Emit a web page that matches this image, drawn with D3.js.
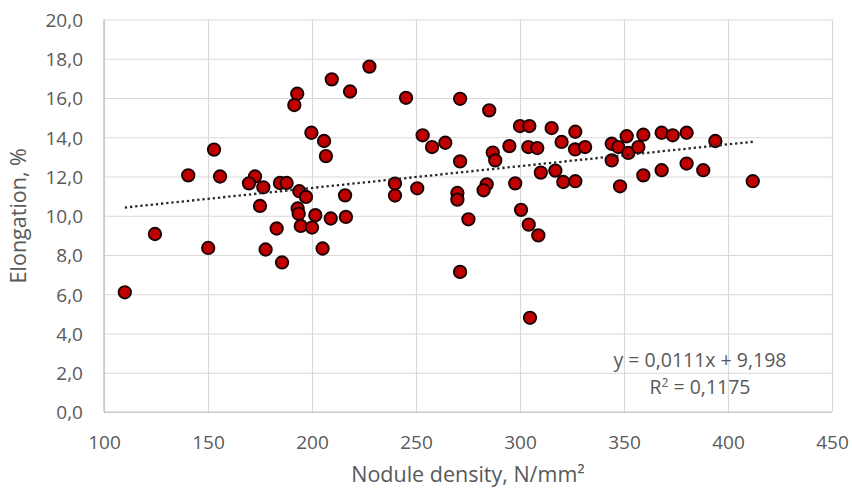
<!DOCTYPE html>
<html>
<head>
<meta charset="utf-8">
<script src="https://cdn.jsdelivr.net/npm/d3@7"></script>
<style>
  html, body { margin: 0; padding: 0; background: #fff; }
  svg { display: block; font-family: "Open Sans", "Noto Sans", sans-serif; }
</style>
</head>
<body>
<svg id="chart" width="852" height="492"></svg>
<script>
// Nodule density (N/mm²) of each specimen
const density = [
  110, 124.5, 140.5, 152.9, 155.8, 150.1, 172.6, 169.7, 176.6, 184.6,
  187.8, 175, 193.9, 197.1, 193.1, 193.6, 201.6, 209, 216.3, 215.9,
  199.7, 205.8, 206.7, 192.9, 191.5, 209.5, 218.3, 183, 194.6, 200,
  177.7, 205.1, 185.6, 227.6, 245.2, 271.2, 285.2, 300, 304.5, 315.2,
  326.6, 253.2, 257.7, 264.1, 294.9, 304, 308.3, 320, 326.5, 286.9,
  288.1, 271.2, 310, 317, 320.8, 326.6, 297.7, 284, 282.5, 239.9,
  239.9, 250.6, 269.9, 269.9, 300.5, 275.2, 304.2, 308.8, 271.2, 304.8,
  331.3, 344.1, 347.3, 351.3, 352.1, 356.9, 359.3, 368.1, 373.4, 380.1,
  393.9, 344.1, 359.3, 368.1, 380.1, 388.1, 348.1, 411.9
];
// Elongation (%) of each specimen
const elongation = [
  6.1, 9.07, 12.06, 13.37, 12.0, 8.36, 12.0, 11.65, 11.45, 11.67,
  11.67, 10.5, 11.25, 10.96, 10.37, 10.1, 10.03, 9.86, 9.94, 11.04,
  14.23, 13.81, 13.04, 16.22, 15.64, 16.95, 16.33, 9.35, 9.48, 9.4,
  8.28, 8.33, 7.62, 17.6, 16.01, 15.96, 15.37, 14.57, 14.57, 14.47,
  14.28, 14.1, 13.5, 13.72, 13.55, 13.5, 13.45, 13.76, 13.38, 13.22,
  12.82, 12.77, 12.2, 12.3, 11.72, 11.76, 11.65, 11.6, 11.3, 11.64,
  11.03, 11.4, 11.16, 10.82, 10.3, 9.82, 9.55, 9.0, 7.14, 4.8,
  13.5, 13.67, 13.5, 14.05, 13.2, 13.5, 14.13, 14.23, 14.1, 14.23,
  13.81, 12.82, 12.06, 12.32, 12.66, 12.32, 11.5, 11.76
];

const xTicks = [100, 150, 200, 250, 300, 350, 400, 450];
const yTicks = [0, 2, 4, 6, 8, 10, 12, 14, 16, 18, 20];

// Linear trend: y = 0,0111x + 9,198, R² = 0,1175
const trendSlope = 0.0111;
const trendIntercept = 9.198;
const trendR2 = 0.1175;

const xTitle = "Nodule density, N/mm²";
const yTitle = "Elongation, %";

const svg = d3.select("#chart");
const textColor = "#595959";
const gridColor = "#d9d9d9";
const axisColor = "#bfbfbf";

const x = d3.scaleLinear().domain([100, 450]).range([104, 832]);
const y = d3.scaleLinear().domain([0, 20]).range([412, 19.5]);

const fmt1 = v => d3.format(".1f")(v).replace(".", ",");
const fmtNum = v => String(v).replace(".", ",");

// Horizontal gridlines
svg.append("g")
  .attr("transform", `translate(${x.range()[0]},0)`)
  .call(d3.axisLeft(y).tickValues(yTicks).tickSize(-(x.range()[1] - x.range()[0])).tickFormat(""))
  .call(g => g.select(".domain").remove())
  .call(g => g.selectAll("line").attr("stroke", gridColor).attr("stroke-width", 1.2));

// Vertical gridlines
svg.append("g")
  .attr("transform", `translate(0,${y.range()[0]})`)
  .call(d3.axisBottom(x).tickValues(xTicks).tickSize(-(y.range()[0] - y.range()[1])).tickFormat(""))
  .call(g => g.select(".domain").remove())
  .call(g => g.selectAll("line").attr("stroke", gridColor).attr("stroke-width", 1.2));

// Axis lines
svg.append("line")
  .attr("x1", x(100)).attr("x2", x(100)).attr("y1", y(0)).attr("y2", y(20))
  .attr("stroke", axisColor).attr("stroke-width", 1.2);
svg.append("line")
  .attr("x1", x(100)).attr("x2", x(450)).attr("y1", y(0)).attr("y2", y(0))
  .attr("stroke", axisColor).attr("stroke-width", 1.2);

// Y tick labels, right edge 21px left of the axis
const yAxis = svg.append("g")
  .attr("transform", `translate(${x.range()[0] - 21},0)`)
  .call(d3.axisLeft(y).tickValues(yTicks).tickSize(0).tickPadding(0).tickFormat(fmt1));
yAxis.select(".domain").remove();
yAxis.selectAll("text")
  .attr("fill", textColor).attr("font-size", 19)
  .attr("x", 0).attr("dy", "0.36em")
  .attr("font-family", "'Open Sans', sans-serif");

// X tick labels, baseline 37px below the axis
const xAxis = svg.append("g")
  .attr("transform", `translate(0,${y.range()[0]})`)
  .call(d3.axisBottom(x).tickValues(xTicks).tickSize(0).tickPadding(0).tickFormat(d3.format("d")));
xAxis.select(".domain").remove();
xAxis.selectAll("text")
  .attr("fill", textColor).attr("font-size", 19)
  .attr("y", 37).attr("dy", 0)
  .attr("font-family", "'Open Sans', sans-serif");

// Axis titles
svg.append("text")
  .attr("x", (x.range()[0] + x.range()[1]) / 2)
  .attr("y", 482)
  .attr("text-anchor", "middle")
  .attr("fill", textColor).attr("font-size", 21.5)
  .text(xTitle);

svg.append("text")
  .attr("transform", `translate(26,${(y.range()[0] + y.range()[1]) / 2}) rotate(-90)`)
  .attr("text-anchor", "middle")
  .attr("fill", textColor).attr("font-size", 21.5)
  .text(yTitle);

// Scatter points
const points = density.map((d, i) => ({ x: d, y: elongation[i] }));
svg.append("g")
  .selectAll("circle")
  .data(points)
  .join("circle")
  .attr("cx", d => x(d.x))
  .attr("cy", d => y(d.y))
  .attr("r", 6.2)
  .attr("fill", "#c00000")
  .attr("stroke", "#1a0000")
  .attr("stroke-width", 1.9);

// Trendline over the data range
const xMin = d3.min(density), xMax = d3.max(density);
const trend = [xMin, xMax].map(v => ({ x: v, y: trendSlope * v + trendIntercept }));
svg.append("path")
  .datum(trend)
  .attr("d", d3.line().x(d => x(d.x)).y(d => y(d.y)))
  .attr("fill", "none")
  .attr("stroke", "#262626")
  .attr("stroke-width", 2.3)
  .attr("stroke-dasharray", "2.3,2.9");

// Equation label
const eq = svg.append("text")
  .attr("text-anchor", "middle")
  .attr("fill", textColor).attr("font-size", 19.5);
eq.append("tspan").attr("x", 700).attr("y", 367)
  .text(`y = ${fmtNum(trendSlope)}x + ${fmtNum(trendIntercept)}`);
const r2 = eq.append("tspan").attr("x", 700).attr("y", 394);
r2.append("tspan").text("R");
r2.append("tspan").attr("font-size", 12).attr("dy", -7).text("2");
r2.append("tspan").attr("dy", 7).text(` = ${fmtNum(trendR2)}`);
</script>
</body>
</html>
